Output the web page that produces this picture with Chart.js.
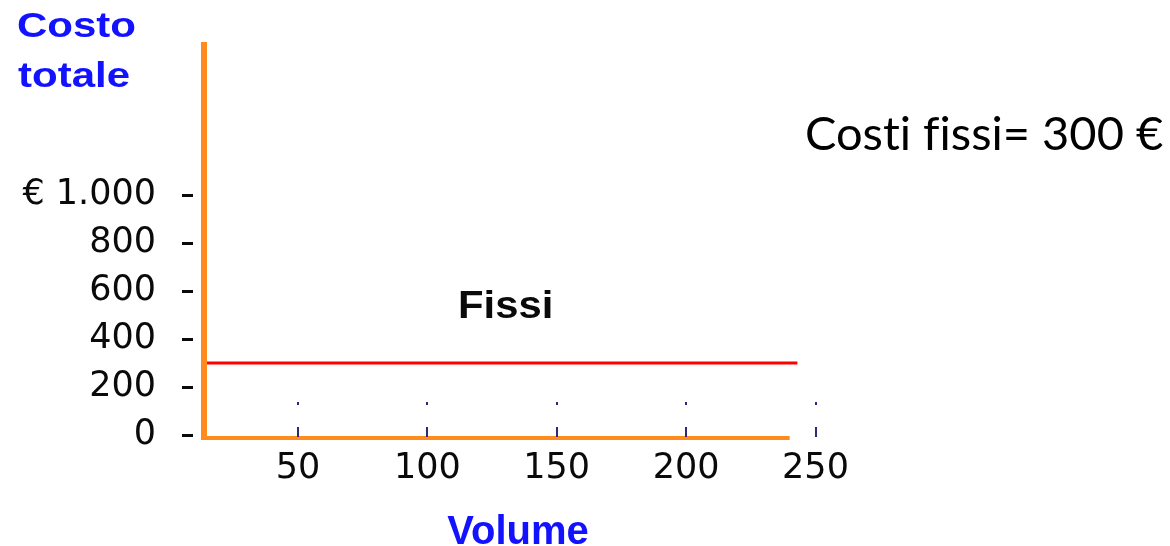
<!DOCTYPE html>
<html lang="it">
<head>
<meta charset="utf-8">
<title>Costi fissi</title>
<script src="https://cdn.jsdelivr.net/npm/chart.js@4/dist/chart.umd.min.js"></script>
<style>
  html, body { margin: 0; padding: 0; background: #ffffff; }
  #wrap { position: relative; width: 1170px; height: 546px; }
</style>
</head>
<body>
<div id="wrap"><canvas id="chart"></canvas></div>
<script>
// Fixed-cost line: volume (x) against total cost (y)
const volumes = [0, 243];
const fixedCosts = [300, 300];

// Axis ticks and their printed labels
const costTicks = [0, 200, 400, 600, 800, 1000];
const costTickLabels = ['0', '200', '400', '600', '800', '€ 1.000'];
const volumeTicks = [50, 100, 150, 200, 250];
const volumeTickLabels = ['50', '100', '150', '200', '250'];

// Volume where the horizontal axis line stops
const volumeAxisEnd = 240;

const AXIS_ORANGE = '#ff8a1e';
const TITLE_BLUE = '#1212ff';
const INK = '#0a0a0a';

// Draws the orange axes, the small dash / tick marks and the free text
const decorations = {
  id: 'decorations',
  afterDatasetsDraw(chart) {
    const { ctx, chartArea: a, scales: { x, y } } = chart;
    ctx.save();

    // orange axis lines
    ctx.strokeStyle = AXIS_ORANGE;
    ctx.lineCap = 'butt';
    ctx.lineWidth = 6;
    ctx.beginPath();
    ctx.moveTo(a.left, a.top);
    ctx.lineTo(a.left, a.bottom + 2);
    ctx.stroke();
    ctx.lineWidth = 4;
    ctx.beginPath();
    ctx.moveTo(a.left - 3, a.bottom);
    ctx.lineTo(x.getPixelForValue(volumeAxisEnd), a.bottom);
    ctx.stroke();

    // dashes beside the cost labels
    ctx.strokeStyle = INK;
    ctx.lineWidth = 3;
    y.ticks.forEach(t => {
      const py = Math.round(y.getPixelForValue(t.value)) + 0.5;
      ctx.beginPath();
      ctx.moveTo(a.left - 22, py);
      ctx.lineTo(a.left - 11, py);
      ctx.stroke();
    });

    // short tick marks and dots above the volume axis
    ctx.strokeStyle = '#2a2a78';
    ctx.fillStyle = '#2a2a78';
    ctx.lineWidth = 2;
    x.ticks.forEach(t => {
      const px = Math.round(x.getPixelForValue(t.value));
      ctx.beginPath();
      ctx.moveTo(px, a.bottom - 11);
      ctx.lineTo(px, a.bottom - 1);
      ctx.stroke();
      ctx.fillRect(px - 1, a.bottom - 36, 2, 3);
    });
    ctx.restore();
  },
  afterDraw(chart) {
    const { ctx } = chart;
    const text = (str, font, color, left, baseline, sx, align) => {
      ctx.save();
      ctx.font = font;
      ctx.fillStyle = color;
      ctx.textBaseline = 'alphabetic';
      ctx.textAlign = align || 'left';
      ctx.translate(left, baseline);
      ctx.scale(sx, 1);
      ctx.fillText(str, 0, 0);
      ctx.restore();
    };
    text('Costo', 'bold 35px "Liberation Sans", Arial, sans-serif', TITLE_BLUE, 17, 37, 1.2);
    text('totale', 'bold 35px "Liberation Sans", Arial, sans-serif', TITLE_BLUE, 18, 87, 1.2);
    text('Volume', 'bold 40px "Liberation Sans", Arial, sans-serif', TITLE_BLUE, 518, 544, 1.0, 'center');
    text('Fissi', 'bold 38px "Liberation Sans", Arial, sans-serif', INK, 458, 318, 1.1);
    // zero-width non-joiners keep "ti" and "fi" as separate letters
    text('Cost\u200Ci f\u200Cissi= 300 €', '47px Lato, "Open Sans", sans-serif', '#000000', 805, 150, 1.0);
  }
};

const tickFont = { family: '"DejaVu Sans", Arial, sans-serif', size: 35 };

// scale paddings for edge labels are not wanted: the plot box is fixed
const fixBox = (s, w, h) => {
  if (w) s.width = w;
  if (h) s.height = h;
  s.paddingTop = 0; s.paddingBottom = 0; s.paddingLeft = 0; s.paddingRight = 0;
};

new Chart(document.getElementById('chart'), {
  type: 'line',
  data: {
    datasets: [{
      label: 'Fissi',
      data: volumes.map((v, i) => ({ x: v, y: fixedCosts[i] })),
      borderColor: '#ff0000',
      borderWidth: 3,
      pointRadius: 0,
      fill: false,
      tension: 0
    }]
  },
  options: {
    responsive: true,
    maintainAspectRatio: false,
    animation: false,
    devicePixelRatio: 1,
    layout: { padding: { top: 42, right: 354.5, bottom: 0, left: 0 } },
    plugins: { legend: { display: false }, tooltip: { enabled: false } },
    scales: {
      x: {
        type: 'linear',
        position: 'bottom',
        min: 13.7,
        max: 250,
        afterBuildTicks: s => { s.ticks = volumeTicks.map(v => ({ value: v })); },
        afterFit: s => fixBox(s, 0, 108),
        ticks: {
          callback: v => volumeTickLabels[volumeTicks.indexOf(v)],
          font: tickFont,
          color: INK,
          padding: 10,
          maxRotation: 0,
          autoSkip: false
        },
        grid: { display: false, drawTicks: false },
        border: { display: false }
      },
      y: {
        type: 'linear',
        position: 'left',
        min: -12.5,
        max: 1637.5,
        afterBuildTicks: s => { s.ticks = costTicks.map(v => ({ value: v })); },
        afterFit: s => fixBox(s, 204, 0),
        ticks: {
          callback: v => costTickLabels[costTicks.indexOf(v)],
          font: tickFont,
          color: INK,
          padding: 48,
          autoSkip: false
        },
        grid: { display: false, drawTicks: false },
        border: { display: false }
      }
    }
  },
  plugins: [decorations]
});
</script>
</body>
</html>
